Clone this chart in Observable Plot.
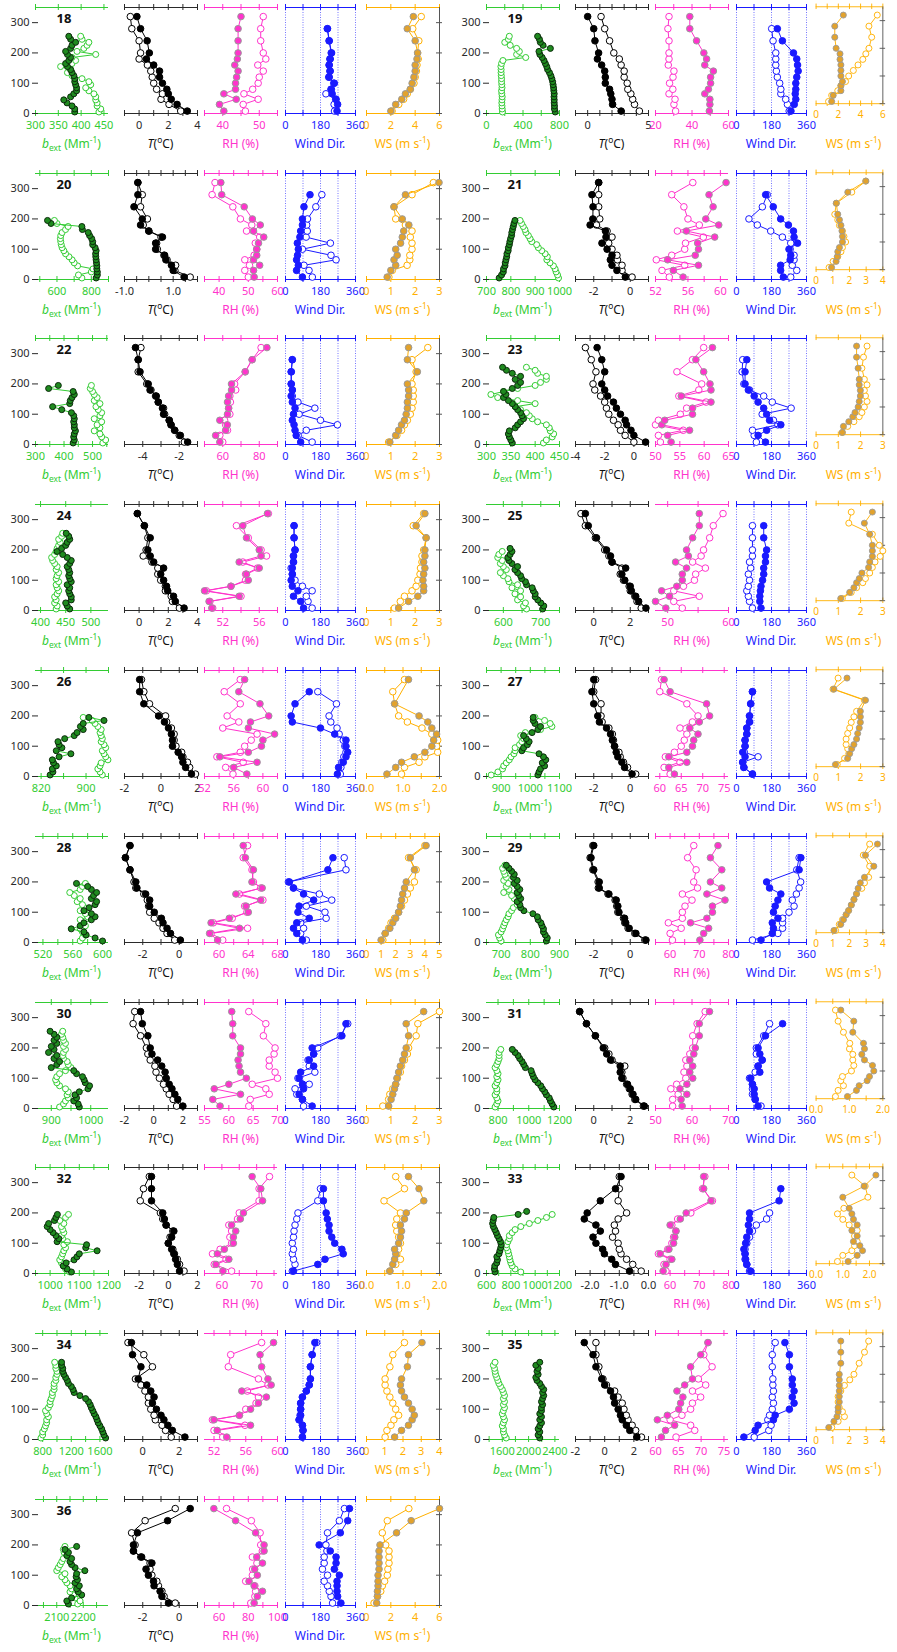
<!DOCTYPE html>
<html><head><meta charset="utf-8">
<script src="https://cdn.jsdelivr.net/npm/d3@7"></script>
<script src="https://cdn.jsdelivr.net/npm/@observablehq/plot@0.6"></script>
<style>
body{margin:0;background:#fff;font-family:"Noto Sans",sans-serif}
#chart{position:relative;width:897px;height:1652px;overflow:hidden;background:#fff}
.sub{position:absolute}
.ttl{position:absolute;width:110px;font-size:12px;text-align:center;white-space:nowrap;line-height:14px}
.ttl sup,.ttl sub{font-size:70%;line-height:0}
</style>
</head><body><div id="chart"></div>
<script>
// ---------- heights ----------
const LEVELS = [8,30,47,65,80,100,120,140,160,180,200,240,280,320];
const BEXT_LEVELS = [5,15,25,35,45,55,65,75,85,95,105,115,125,135,145,155,165,175,185,195,205,215,225,235,245,255];
const PANELS = [18,19,20,21,22,23,24,25,26,27,28,29,30,31,32,33,34,35,36];

// ---------- axis specs: [min, max, ticks, labels, decimals] ----------
const bextAxes = {
18:[300,460,[300,350,400,450],[300,350,400,450],0],
19:[0,800,[0,200,400,600,800],[0,400,800],0],
20:[475,900,[500,600,700,800,900],[600,800],0],
21:[700,1000,[700,800,900,1000],[700,800,900,1000],0],
22:[300,556,[300,350,400,450,500,550],[300,400,500],0],
23:[300,450,[300,350,400,450],[300,350,400,450],0],
24:[390,535,[400,450,500],[400,450,500],0],
25:[555,750,[600,650,700,750],[600,700],0],
26:[810,940,[820,860,900,940],[820,900],0],
27:[850,1100,[850,900,950,1000,1050,1100],[900,1000,1100],0],
28:[510,608,[520,540,560,580,600],[520,560,600],0],
29:[650,900,[650,700,750,800,850,900],[700,800,900],0],
30:[860,1045,[900,950,1000],[900,1000],0],
31:[725,1200,[800,900,1000,1100,1200],[800,1000,1200],0],
32:[950,1200,[950,1000,1050,1100,1150,1200],[1000,1100,1200],0],
33:[600,1200,[600,700,800,900,1000,1100,1200],[600,800,1000,1200],0],
34:[700,1720,[800,1000,1200,1400,1600],[800,1200,1600],0],
35:[1360,2470,[1400,1600,1800,2000,2200,2400],[1600,2000,2400],0],
36:[2020,2295,[2050,2100,2150,2200,2250],[2100,2200],0]};
const tAxes = {
18:[-1,4,[-1,0,1,2,3,4],[0,2,4],0],
19:[-1,5,[-1,0,1,2,3,4,5],[0,5],0],
20:[-1,2,[-1,-0.5,0,0.5,1,1.5,2],[-1,1],1],
21:[-3,1,[-3,-2,-1,0,1],[-2,0],0],
22:[-5,-1,[-5,-4,-3,-2,-1],[-4,-2],0],
23:[-4,1,[-4,-3,-2,-1,0,1],[-4,-2,0],0],
24:[-1,4,[-1,0,1,2,3,4],[0,2,4],0],
25:[-1,3,[-1,0,1,2,3],[0,2],0],
26:[-2,2,[-2,-1,0,1,2],[-2,0,2],0],
27:[-3,1,[-3,-2,-1,0,1],[-2,0],0],
28:[-3,1,[-3,-2,-1,0,1],[-2,0],0],
29:[-3,1,[-3,-2,-1,0,1],[-2,0],0],
30:[-2,3,[-2,-1,0,1,2,3],[-2,0,2],0],
31:[-1,3,[-1,0,1,2,3],[0,2],0],
32:[-3,2,[-3,-2,-1,0,1,2],[-2,0,2],0],
33:[-2.5,0,[-2.5,-2,-1.5,-1,-0.5,0],[-2,-1,0],1],
34:[-1,3,[-1,0,1,2,3],[0,2],0],
35:[-2,3,[-2,-1,0,1,2,3],[-2,0,2],0],
36:[-3,1,[-3,-2,-1,0,1],[-2,0],0]};
const rhAxes = {
18:[35,55,[35,40,45,50,55],[40,50],0],
19:[20,60,[20,30,40,50,60],[20,40,60],0],
20:[35,60,[35,40,45,50,55,60],[40,50,60],0],
21:[52,61,[52,54,56,58,60],[52,56,60],0],
22:[50,90,[50,60,70,80,90],[60,80],0],
23:[50,65,[50,55,60,65],[50,55,60,65],0],
24:[50,58,[50,52,54,56,58],[52,56],0],
25:[48,60,[50,55,60],[50,60],0],
26:[52,62,[52,54,56,58,60,62],[52,56,60],0],
27:[59,76,[60,65,70,75],[60,65,70,75],0],
28:[58,68,[58,60,62,64,66,68],[60,64,68],0],
29:[55,80,[55,60,65,70,75,80],[60,70,80],0],
30:[55,70,[55,60,65,70],[55,60,65,70],0],
31:[50,70,[50,55,60,65,70],[50,60,70],0],
32:[55,76,[55,60,65,70,75],[60,70],0],
33:[55,80,[55,60,65,70,75,80],[60,70,80],0],
34:[50.8,60,[52,54,56,58,60],[52,56,60],0],
35:[60,76,[60,65,70,75],[60,65,70,75],0],
36:[50,100,[50,60,70,80,90,100],[60,80,100],0]};
const wdAxis = [0,360,[0,90,180,270,360],[0,180,360],0];
const wsAxes = {
18:[0,6,[0,2,4,6],[0,2,4,6],0],
19:[0,6,[0,1,2,3,4,5,6],[0,2,4,6],0],
20:[0,3,[0,1,2,3],[0,1,2,3],0],
21:[0,4,[0,1,2,3,4],[0,1,2,3,4],0],
22:[0,3,[0,1,2,3],[0,1,2,3],0],
23:[0,3,[0,1,2,3],[0,1,2,3],0],
24:[0,3,[0,1,2,3],[0,1,2,3],0],
25:[0,3,[0,1,2,3],[0,1,2,3],0],
26:[0,2,[0,0.5,1,1.5,2],[0,1,2],1],
27:[0,3,[0,1,2,3],[0,1,2,3],0],
28:[0,5,[0,1,2,3,4,5],[0,1,2,3,4,5],0],
29:[0,4,[0,1,2,3,4],[0,1,2,3,4],0],
30:[0,3,[0,1,2,3],[0,1,2,3],0],
31:[0,2,[0,0.5,1,1.5,2],[0,1,2],1],
32:[0,2,[0,0.5,1,1.5,2],[0,1,2],1],
33:[0,2.5,[0,0.5,1,1.5,2,2.5],[0,1,2],1],
34:[0,4,[0,1,2,3,4],[0,1,2,3,4],0],
35:[0,4,[0,1,2,3,4],[0,1,2,3,4],0],
36:[0,6,[0,2,4,6],[0,2,4,6],0]};

// ---------- extinction (Mm-1) at BEXT_LEVELS ----------
const bextFilled = {
18:[386,386,380,369,362,377,384,390,390,388,386,386,384,380,377,370,366,373,377,370,366,377,380,388,377,373],
19:[753,745,745,742,742,740,742,738,735,730,725,716,705,690,670,660,645,630,610,585,575,700,620,590,580,560],
20:[828,835,835,832,832,830,828,826,825,828,822,808,808,802,790,782,748,745,565,545],
21:[752,762,769,770,776,777,780,783,784,789,790,794,796,799,803,804,807,810,813,817],
22:[432,436,434,436,440,436,436,434,436,434,426,392,360,420,422,428,436,432,346,380],
23:[353,350,347,345,347,359,364,370,376,373,370,364,359,353,345,335,340,335,353,364,370,359,370,353,341,333],
24:[458,453,450,461,461,458,456,458,453,461,458,456,458,456,453,458,461,453,444,433,442,450,453,458,456,451],
25:[705,708,700,692,685,685,680,677,662,659,649,646,638,631,638,623,615,612,618,623,618],
26:[836,841,840,847,842,840,852,873,847,857,852,850,862,879,884,895,890,895,932,905],
27:[1026,1030,1035,1049,1041,1053,1045,1030,971,977,990,996,986,977,1006,1026,1035,1016,1010,1010],
28:[600,590,578,575,558,570,575,585,590,585,575,582,590,592,585,588,592,585,580,565],
29:[855,858,851,845,845,840,836,827,824,809,778,767,764,755,767,760,755,764,755,745,755,742,745,736,727,718],
30:[971,968,957,964,960,971,993,997,986,983,979,964,957,900,914,921,907,914,893,907,900,914,907,914,907,897],
31:[1163,1152,1141,1133,1115,1104,1089,1078,1059,1041,1030,1022,1015,978,967,956,941,930,911,893],
32:[1073,1058,1045,1055,1082,1092,1100,1161,1122,1125,1024,1030,1020,1010,1000,990,995,1015,1020,1025],
33:[670,665,668,684,690,685,703,710,717,721,715,703,690,680,668,656,650,655,660,860,930],
34:[1680,1656,1640,1624,1600,1576,1560,1544,1520,1500,1480,1464,1440,1400,1320,1240,1224,1200,1160,1144,1120,1096,1080,1080,1064,1064],
35:[2170,2145,2170,2145,2170,2196,2170,2196,2170,2196,2196,2213,2196,2213,2230,2213,2230,2196,2170,2128,2110,2145,2128,2145,2110,2170],
36:[2144,2138,2156,2194,2181,2175,2185,2169,2178,2173,2175,2206,2169,2156,2150,2156,2138,2144,2131,2175]};
const bextOpen = {
18:[439,443,435,435,432,432,428,417,410,421,417,402,380,370,377,355,380,388,380,432,391,406,413,417,402,399],
19:[175,172,170,168,170,172,168,165,170,168,165,165,162,160,160,158,165,180,430,330,360,330,260,200,240,250],
20:[745,725,800,810,720,700,688,670,650,640,630,625,622,620,622,630,650,665,600,585],
21:[996,992,986,982,975,961,948,950,941,927,913,906,886,879,872,862,858,851,844,838],
22:[536,546,532,526,506,526,516,532,506,526,532,520,512,526,506,516,506,500,492,496],
23:[417,423,435,438,431,429,423,405,394,388,382,370,359,400,364,323,309,335,364,400,411,423,423,405,400,382],
24:[431,433,428,431,428,433,436,433,431,436,431,433,436,431,433,428,424,422,428,431,433,436,439,436,442,444],
25:[662,654,659,638,646,631,646,623,638,615,612,600,592,608,600,592,597,585,588,597],
26:[929,925,921,925,927,939,935,932,929,935,932,927,929,927,925,927,921,916,911,895],
27:[866,889,905,909,918,928,934,944,948,948,963,971,977,967,983,1035,1074,1068,1049,1016],
28:[570,573,577,573,570,577,573,570,580,577,570,576,573,566,570,562,556,570,573,577],
29:[700,695,691,700,705,709,713,718,724,727,736,742,755,760,745,736,709,727,718,724,709,718,713,709,705,713],
30:[921,931,936,943,940,943,936,921,914,911,914,921,936,950,943,940,931,929,931,936,931,936,931,929,926,929],
31:[781,792,800,792,781,792,792,781,792,800,792,800,792,781,792,800,807,807,807,818],
32:[1067,1053,1047,1039,1033,1039,1043,1047,1053,1047,1059,1043,1039,1047,1043,1039,1047,1033,1053,1063],
33:[882,835,811,800,793,788,782,776,765,765,776,788,788,811,835,882,952,1022,1093,1140],
34:[776,800,800,824,840,856,856,880,856,840,880,904,904,920,936,936,960,960,960,984,984,1000,1000,984,984,968],
35:[1660,1634,1617,1617,1600,1617,1634,1617,1600,1617,1634,1617,1634,1617,1634,1617,1600,1574,1549,1532,1515,1498,1490,1481,1464,1490],
36:[2179,2188,2169,2163,2150,2156,2150,2138,2131,2119,2131,2100,2106,2113,2119,2125,2138,2128,2125,2131]};

// ---------- temperature (°C) at LEVELS ----------
const tFilled = {
18:[3.3,2.6,2.2,2.0,1.9,1.6,1.4,1.4,1.0,0.5,0.7,0.55,0.1,-0.15],
19:[2.75,2.05,2.0,1.9,1.8,1.45,1.45,1.4,1.15,0.8,0.9,0.6,0.5,0.0],
20:[1.45,1.0,0.93,0.7,0.65,0.28,0.28,0.56,0.0,-0.34,-0.27,-0.61,-0.45,-0.45],
21:[-0.27,-0.73,-1.0,-1.09,-1.0,-1.27,-1.55,-1.33,-1.36,-2.2,-2.05,-2.04,-2.1,-1.73],
22:[-1.54,-1.94,-2.25,-2.45,-2.55,-2.86,-2.92,-3.15,-3.26,-3.6,-3.7,-4.15,-4.25,-4.4],
23:[0.8,0.0,-0.2,-0.5,-0.6,-0.92,-1.2,-1.4,-1.8,-2.0,-2.2,-2.0,-2.2,-2.52],
24:[3.08,2.48,2.36,1.96,1.88,1.68,1.48,1.68,1.0,0.76,0.6,0.76,0.36,-0.12],
25:[2.86,2.46,2.3,2.06,2.0,1.7,1.54,1.75,1.0,0.92,0.7,0.15,-0.3,-0.46],
26:[1.67,1.35,1.2,1.13,0.94,0.63,0.63,0.57,0.41,0.19,-0.13,-0.94,-1.17,-1.17],
27:[0.1,-0.31,-0.46,-0.68,-0.77,-0.86,-0.98,-1.08,-1.3,-1.69,-1.78,-2.0,-2.1,-2.0],
28:[0.06,-0.48,-0.67,-0.89,-0.98,-1.37,-1.62,-1.62,-1.84,-2.32,-2.38,-2.7,-2.95,-2.7],
29:[0.86,0.31,-0.06,-0.25,-0.31,-0.62,-0.68,-0.77,-1.17,-1.7,-1.7,-2.0,-2.15,-2.0],
30:[2.0,1.65,1.45,1.25,1.06,0.86,0.78,0.55,0.27,-0.12,-0.24,-0.4,-0.78,-0.9],
31:[2.77,2.3,2.15,2.0,1.85,1.54,1.45,1.45,0.92,0.71,0.52,0.09,-0.4,-0.77],
32:[0.77,0.62,0.5,0.38,0.23,0.0,0.23,0.38,-0.15,-0.27,-0.38,-1.15,-1.15,-1.15],
33:[-0.65,-1.13,-1.26,-1.51,-1.57,-1.8,-1.9,-1.65,-1.8,-2.2,-2.1,-1.65,-1.13,-0.94],
34:[2.31,1.62,1.38,1.16,1.0,0.75,0.53,0.62,0.44,0.22,-0.25,-0.1,-0.56,-0.62],
35:[2.2,1.72,1.48,1.2,1.08,0.92,0.68,0.6,0.4,0.0,-0.2,-0.6,-0.8,-1.4],
36:[-0.59,-0.95,-1.05,-1.38,-1.41,-1.69,-1.82,-1.5,-2.06,-2.51,-2.51,-2.29,-0.64,0.6]};
const tOpen = {
18:[2.85,2.05,1.5,1.6,1.2,1.0,0.9,0.8,0.57,0.0,0.1,0.0,-0.5,-0.6],
19:[4.25,3.85,3.7,3.55,3.3,3.25,3.0,3.0,2.75,2.6,2.15,1.8,1.4,1.1],
20:[1.7,1.07,1.1,0.75,0.62,0.35,0.32,0.5,0.0,-0.23,-0.06,-0.34,-0.27,-0.45],
21:[0.1,-0.45,-0.45,-0.7,-0.73,-1.0,-1.18,-1.0,-1.27,-1.85,-1.67,-1.73,-1.73,-1.73],
22:[-1.72,-2.0,-2.25,-2.45,-2.55,-2.8,-2.86,-3.15,-3.3,-3.55,-3.78,-4.25,-4.25,-4.1],
23:[0.0,-0.6,-0.92,-1.08,-1.4,-1.72,-1.88,-2.0,-2.28,-2.68,-2.8,-2.6,-2.92,-3.32],
24:[2.76,2.28,2.2,1.8,1.8,1.48,1.28,1.28,0.88,0.28,0.48,0.6,0.36,-0.12],
25:[2.6,2.37,2.25,2.0,1.94,1.63,1.45,1.54,1.0,0.83,0.6,0.09,-0.46,-0.7],
26:[1.89,1.57,1.45,1.2,1.13,0.82,0.72,0.72,0.57,0.31,0.25,-0.63,-0.94,-1.07],
27:[0.3,-0.15,-0.37,-0.55,-0.62,-0.86,-0.92,-0.98,-1.17,-1.54,-1.6,-1.6,-2.0,-1.9],
28:[-0.25,-0.67,-0.89,-1.11,-1.37,-1.62,-1.68,-1.75,-1.94,-2.38,-2.48,-2.7,-2.95,-2.7],
29:[0.8,0.25,-0.12,-0.3,-0.37,-0.68,-0.74,-0.83,-1.22,-1.75,-1.76,-2.05,-2.2,-2.05],
30:[1.57,1.33,1.06,0.86,0.67,0.39,0.16,0.08,-0.24,-0.4,-0.5,-0.9,-1.41,-1.3],
31:[2.72,2.25,2.1,1.95,1.8,1.6,1.54,1.7,1.0,0.83,0.6,0.09,-0.4,-0.77],
32:[1.08,0.77,0.62,0.42,0.31,0.0,0.12,0.31,-0.15,-0.38,-0.54,-1.92,-1.7,-1.3],
33:[-0.25,-0.54,-0.75,-0.94,-1.0,-1.04,-1.23,-1.13,-1.17,-1.04,-0.75,-1.04,-1.0,-1.0],
34:[1.56,1.25,1.06,0.69,0.62,0.44,0.31,0.31,0.12,-0.1,-0.4,0.53,0.06,-0.81],
35:[2.52,2.12,1.88,1.6,1.48,1.32,1.2,0.92,0.68,0.12,-0.12,-0.4,-0.6,-0.6],
36:[-0.22,-0.83,-0.95,-1.14,-1.23,-1.5,-1.6,-1.6,-2.11,-2.51,-2.42,-2.61,-1.87,-0.22]};

// ---------- relative humidity (%) at LEVELS ----------
const rhFilled = {
18:[40.3,39.1,43.7,40.3,43.5,43.5,43.8,44.2,43.3,44.0,44.2,44.2,44.2,45.0],
19:[49.5,49.8,49.8,47.0,49.0,50.2,50.2,51.7,47.0,48.0,46.5,42.5,38.8,38.8],
20:[52.0,51.8,53.9,51.8,52.9,52.9,53.5,55.3,51.8,54.1,51.4,48.6,40.9,40.6],
21:[55.4,54.2,57.3,53.5,56.9,57.3,57.2,59.3,55.8,59.8,58.2,59.1,58.6,60.7],
22:[58.4,56.1,61.6,62.5,58.4,62.6,63.2,62.6,63.2,64.8,64.8,72.3,76.1,84.2],
23:[53.2,52.5,57.0,51.3,51.9,57.6,57.6,61.4,55.3,61.4,61.2,59.9,58.3,61.7],
24:[50.8,50.5,53.8,50.0,52.9,54.8,54.6,56.0,53.8,56.2,56.0,54.6,54.2,56.9],
25:[49.7,48.0,50.3,49.0,51.5,52.4,52.4,53.1,51.3,53.4,53.1,54.1,55.2,55.2],
26:[57.8,56.0,59.2,54.1,58.0,59.8,60.0,61.6,58.0,58.3,60.8,59.6,56.7,57.5],
27:[63.4,62.1,66.3,62.1,66.3,67.6,67.9,68.9,67.0,69.2,71.6,70.9,62.4,61.0],
28:[59.8,58.7,62.8,58.9,61.4,64.0,63.7,65.7,62.3,65.9,64.5,64.7,63.6,63.3],
29:[70.2,71.5,73.2,67.0,72.6,74.5,74.5,78.8,72.6,77.7,73.8,77.7,73.8,76.4],
30:[58.2,56.7,62.4,57.0,60.0,63.6,62.4,62.1,61.9,62.4,62.4,60.8,60.8,60.6],
31:[57.3,57.0,58.6,56.7,58.6,60.2,59.4,60.2,59.4,60.5,60.9,62.0,62.0,64.8],
32:[60.3,58.3,62.0,58.7,60.7,63.3,63.3,64.0,62.8,65.3,66.2,71.7,71.2,68.7],
33:[57.6,58.6,60.6,56.6,59.6,61.2,61.6,62.0,60.0,63.5,65.5,74.0,71.5,71.5],
34:[53.6,52.4,56.6,52.0,55.2,56.6,57.6,58.6,55.5,59.2,58.8,58.0,57.8,59.5],
35:[61.3,62.2,64.2,60.4,62.6,65.1,65.5,66.0,64.7,66.4,68.1,67.7,69.9,71.5],
36:[84.0,86.2,89.7,84.0,80.5,86.2,84.4,89.7,85.8,90.8,90.8,85.0,71.3,56.4]};
const rhOpen = {
18:[46.2,45.6,49.7,45.8,48.2,49.7,50.0,51.1,49.6,51.8,51.1,50.4,50.4,51.1],
19:[31.0,30.1,30.7,27.4,29.5,27.7,29.6,30.1,27.0,27.4,27.4,27.4,26.8,27.4],
20:[50.0,48.8,50.4,48.8,52.0,52.9,52.4,53.9,49.4,51.2,47.3,44.7,37.6,38.6],
21:[53.7,52.8,55.6,52.1,54.0,55.6,55.7,57.9,54.7,57.4,56.0,55.5,54.0,56.6],
22:[60.0,58.4,62.6,61.6,61.0,63.9,63.2,64.2,63.9,67.1,66.5,72.3,76.1,81.0],
23:[51.0,50.6,55.7,50.0,50.6,55.1,56.4,60.4,54.8,58.9,59.5,54.4,57.6,59.9],
24:[50.9,50.6,54.0,50.2,52.9,54.5,54.5,55.8,54.2,56.8,56.2,54.8,53.5,57.0],
25:[52.4,51.0,55.2,51.0,52.6,54.4,54.6,56.2,54.1,55.5,55.9,56.9,57.5,59.1],
26:[55.9,54.9,57.3,53.7,56.9,57.5,58.4,59.2,54.5,56.7,55.1,56.9,54.7,56.9],
27:[62.4,61.0,64.7,61.3,63.4,65.0,65.7,66.3,64.7,67.6,68.9,66.3,60.0,60.4],
28:[60.5,58.9,63.9,59.2,61.8,63.8,63.5,66.0,62.8,65.7,64.7,64.5,63.3,63.9],
29:[60.8,60.0,63.8,59.4,64.2,64.2,65.1,67.5,64.2,69.4,68.1,68.9,66.0,68.1],
30:[64.1,64.4,68.3,67.6,64.8,70.0,69.5,68.3,68.3,69.3,69.5,67.1,67.6,64.1],
31:[54.7,54.7,56.2,54.2,55.8,58.3,57.8,58.6,58.3,59.4,60.2,60.2,61.4,63.6],
32:[62.8,57.8,61.2,57.3,59.5,62.8,62.3,62.8,62.0,64.5,65.0,70.7,70.7,73.7],
33:[58.6,57.9,60.0,56.0,59.2,60.6,61.2,62.0,60.6,62.6,67.1,74.5,71.1,71.9],
34:[53.1,52.0,55.9,51.8,55.2,56.0,57.3,57.6,56.2,58.8,57.6,53.8,54.1,58.0],
35:[64.5,68.6,67.7,63.2,65.8,67.7,68.1,69.9,68.1,71.0,69.4,72.4,70.6,71.5],
36:[81.7,84.5,85.0,84.5,78.2,82.8,83.0,85.9,82.8,89.6,88.5,88.1,82.1,65.1]};

// ---------- wind direction (deg) at LEVELS ----------
const wdFilled = {
18:[265,268,260,240,234,251,225,230,225,230,237,225,216,null],
19:[280,297,305,302,305,305,310,317,314,310,293,236,210,null],
20:[87,57,66,57,62,66,61,74,78,87,87,95,126,null],
21:[241,227,227,276,279,270,314,296,293,267,227,189,150,null],
22:[78,55,49,44,35,41,49,35,29,35,29,29,35,null],
23:[149,111,155,228,170,155,140,111,91,61,44,44,53,null],
24:[93,78,41,64,35,29,35,35,41,41,49,44,44,null],
25:[126,120,120,123,126,134,140,140,149,149,155,140,140,null],
26:[267,273,297,311,320,311,311,253,180,35,29,49,122,null],
27:[82,38,32,44,32,44,44,53,53,67,67,73,82,null],
28:[87,58,41,58,122,64,70,145,93,41,20,218,244,null],
29:[126,184,190,184,213,190,199,213,228,170,155,322,331,null],
30:[137,87,70,93,87,70,78,145,122,145,137,290,311,null],
31:[111,96,91,91,82,73,120,111,132,120,111,149,237,null],
32:[41,166,203,297,290,253,238,224,224,215,209,195,195,null],
33:[73,53,47,44,38,47,53,67,61,67,67,219,228,null],
34:[87,90,87,70,78,78,78,87,107,122,128,128,137,151],
35:[38,96,111,190,199,272,296,287,296,287,287,272,272,249],
36:[285,268,265,265,265,277,251,260,260,230,173,282,320,329]};
const wdOpen = {
18:[252,250,258,208,236,248,222,228,224,228,235,224,215,null],
19:[271,262,253,228,228,222,210,205,202,202,202,188,181,null],
20:[138,121,95,260,234,87,231,106,112,109,113,156,187,null],
21:[279,310,287,296,296,276,279,236,176,107,64,133,158,null],
22:[137,65,107,267,180,70,151,64,35,35,30,30,35,null],
23:[102,91,82,213,190,132,281,184,140,67,38,29,32,null],
24:[137,116,107,137,87,49,35,29,41,41,49,44,44,null],
25:[82,67,61,53,61,67,61,73,67,82,82,82,82,null],
26:[282,285,290,300,311,305,297,276,265,233,224,262,166,null],
27:[82,38,32,111,40,44,44,53,53,67,67,73,82,null],
28:[107,78,93,78,209,203,107,238,174,41,15,311,302,null],
29:[82,213,237,237,237,270,296,287,308,322,330,310,322,null],
30:[93,87,58,49,122,64,151,122,116,145,166,282,320,null],
31:[126,96,82,82,82,67,96,111,132,102,102,140,170,null],
32:[35,49,41,35,41,35,41,44,49,58,64,166,180,null],
33:[67,53,44,44,44,53,67,82,102,155,170,null,null,null],
34:[87,90,87,70,75,78,78,87,107,122,128,128,137,160],
35:[91,166,178,161,170,184,190,184,190,187,187,184,184,199],
36:[242,234,225,216,199,216,190,199,199,213,208,216,277,303]};

// ---------- wind speed (m s-1) at LEVELS ----------
const wsFilled = {
18:[2.0,2.4,2.9,3.2,3.6,3.75,3.9,4.0,4.0,4.15,4.2,4.0,3.35,3.85],
19:[1.4,1.54,2.23,2.23,2.37,2.23,2.23,2.23,2.15,2.15,1.8,1.68,1.68,2.45],
20:[0.85,1.0,1.2,1.13,1.26,1.2,1.4,1.47,1.53,1.74,1.47,1.13,1.6,2.98],
21:[0.93,1.2,1.27,1.3,1.4,1.58,1.58,1.55,1.49,1.4,1.3,1.21,1.9,2.98],
22:[0.96,1.2,1.32,1.44,1.56,1.63,1.68,1.68,1.73,1.73,1.68,2.09,1.68,1.73],
23:[1.18,1.23,1.47,1.65,1.75,1.89,1.94,1.99,1.99,1.94,1.94,1.89,1.82,1.82],
24:[1.32,1.73,2.11,2.35,2.35,2.32,2.35,2.4,2.35,2.4,2.4,2.45,2.04,2.4],
25:[1.11,1.51,1.7,1.82,1.94,2.06,2.36,2.41,2.53,2.53,2.53,2.41,2.17,2.53],
26:[0.56,0.8,0.96,1.31,1.6,1.79,1.84,1.92,1.79,1.68,1.44,0.77,null,1.15],
27:[0.87,1.42,1.51,1.6,1.7,1.82,1.87,1.94,1.99,1.99,1.99,2.22,0.8,1.39],
28:[1.0,1.28,1.6,1.8,2.0,2.2,2.32,2.4,2.48,2.6,2.72,3.28,3.0,4.08],
29:[1.07,1.48,1.64,1.8,1.95,2.11,2.27,2.42,2.52,2.65,2.9,3.46,2.96,3.68],
30:[0.91,1.01,1.08,1.15,1.2,1.25,1.32,1.39,1.49,1.56,1.63,1.73,1.63,2.35],
31:[0.94,1.21,1.29,1.53,1.6,1.73,1.69,1.45,1.37,1.45,1.42,1.1,1.13,0.74],
32:[0.64,0.72,0.77,0.8,0.77,0.88,0.93,0.96,0.93,1.04,1.09,1.57,1.44,1.15],
33:[1.2,1.54,1.74,1.64,1.4,1.54,1.34,1.54,1.4,1.34,1.24,1.0,1.8,2.24],
34:[1.54,1.92,2.3,2.5,2.62,2.5,2.3,2.08,1.92,1.86,1.92,2.24,2.3,3.04],
35:[0.76,1.07,1.25,1.32,1.32,1.39,1.39,1.39,1.39,1.39,1.39,1.48,1.48,1.48],
36:[0.84,0.9,0.9,0.95,0.95,0.95,1.03,1.03,1.03,1.03,1.11,2.47,3.67,6.0]};
const wsOpen = {
18:[2.1,2.65,3.05,3.35,3.6,3.9,4.0,4.1,4.15,4.25,4.2,4.3,3.8,4.5],
19:[1.12,1.4,1.95,2.23,2.65,2.93,3.35,3.77,4.2,4.47,4.75,5.0,4.75,5.5],
20:[0.92,1.06,1.67,1.78,1.78,1.87,1.87,1.8,1.87,1.6,1.2,1.13,1.87,2.75],
21:[0.78,1.02,1.3,1.49,1.58,1.77,1.67,1.58,1.4,1.3,1.12,1.21,2.14,2.98],
22:[0.91,1.25,1.44,1.56,1.68,1.8,1.87,1.92,1.92,1.92,1.87,2.04,1.87,2.52],
23:[1.18,1.42,1.7,1.94,2.06,2.17,2.29,2.22,2.17,2.29,2.17,2.06,2.13,2.29],
24:[1.15,1.39,1.56,1.87,2.04,2.11,2.2,2.22,2.28,2.28,2.35,2.45,1.92,2.35],
25:[1.18,1.58,1.82,2.1,2.22,2.41,2.53,2.65,2.88,3.0,2.84,2.53,1.47,1.58],
26:[0.96,1.04,1.44,1.6,1.95,1.92,1.95,1.79,1.52,1.12,0.88,0.77,0.72,1.04],
27:[0.95,1.28,1.47,1.42,1.35,1.35,1.42,1.51,1.58,1.7,1.82,2.17,0.76,0.99],
28:[1.12,1.28,1.52,1.68,1.92,2.2,2.4,2.6,2.8,3.0,3.28,3.4,2.88,4.0],
29:[1.17,1.39,1.58,1.8,1.95,2.11,2.27,2.42,2.74,2.9,3.15,3.21,2.83,3.21],
30:[0.67,0.91,0.96,1.08,1.2,1.27,1.39,1.44,1.56,1.68,1.73,2.04,2.11,3.0],
31:[0.58,0.66,0.82,0.74,0.79,1.06,1.13,1.1,1.1,1.0,1.01,0.82,0.66,0.58],
32:[0.64,0.8,0.93,0.83,0.88,0.93,0.88,0.83,0.8,0.83,0.93,0.48,1.04,0.8],
33:[0.8,1.0,1.34,1.44,1.54,1.44,1.54,1.24,1.0,0.8,1.04,1.94,1.84,1.34],
34:[1.02,1.12,1.34,1.5,1.76,1.6,1.44,1.28,1.12,1.02,1.02,1.28,1.44,2.08],
35:[0.94,1.32,1.7,1.58,1.39,1.32,1.32,1.48,1.7,2.02,2.27,2.58,2.9,3.15],
36:[0.62,0.9,1.17,1.3,1.49,1.71,1.76,1.85,1.85,1.85,1.58,1.3,1.71,3.48]};

// ---------- drawing ----------
const GREEN = "#33cc33", MAGENTA = "#ff33cc", BLUE = "#1a1aff", ORANGE = "#ffb000", DARK = "#2a2a2a";
const FONT = "'Noto Sans', sans-serif";
const PH = 106, MT = 8, MB = 26;
const COL_OFFSET = 451, ROW_PITCH = 165.8, ZERO0 = 112.7;

const VARS = [
  {left:35, w:73, color:GREEN, axes:p=>bextAxes[p], F:bextFilled, O:bextOpen, hs:BEXT_LEVELS, r:3,
   fillF:"#1f8a1f", strokeF:"#0b2a0b", strokeO:GREEN, line:GREEN, isB:true,
   title:'<i>b</i><sub>ext</sub> (Mm<sup>-1</sup>)'},
  {left:124, w:73, color:DARK, axes:p=>tAxes[p], F:tFilled, O:tOpen, hs:LEVELS, r:3.3,
   fillF:"#000", strokeF:"#000", strokeO:"#000", line:"#000", title:'<i>T</i>(<sup>o</sup>C)'},
  {left:204, w:73, color:MAGENTA, axes:p=>rhAxes[p], F:rhFilled, O:rhOpen, hs:LEVELS, r:3.3,
   fillF:MAGENTA, strokeF:"#9a9a9a", strokeO:MAGENTA, line:MAGENTA, title:'RH (%)'},
  {left:285, w:70, color:BLUE, axes:p=>wdAxis, F:wdFilled, O:wdOpen, hs:LEVELS, r:3.3,
   fillF:BLUE, strokeF:BLUE, strokeO:BLUE, line:BLUE, isWD:true, title:'Wind Dir.'},
  {left:366, w:73, color:ORANGE, axes:p=>wsAxes[p], F:wsFilled, O:wsOpen, hs:LEVELS, r:3.3,
   fillF:"#e2a22c", strokeF:"#9a9a9a", strokeO:ORANGE, line:ORANGE, isWS:true,
   title:'WS (m s<sup>-1</sup>)'}
];

const chart = document.getElementById("chart");

function makeSub(V, p) {
  const [x0, x1, ticks, labels, dec] = V.axes(p);
  const ml = V.isB ? 40 : 16, mr = 16;
  const tu = 3 * 350 / PH;
  const dx = 3 * (x1 - x0) / V.w;
  const fmt = d => dec ? d.toFixed(dec) : String(d);
  const rows = vals => vals.map((v, i) => ({v, h: V.hs[i]})).filter(d => d.v != null);
  const open = rows(V.O[p]), filled = rows(V.F[p]);
  const marks = [];
  if (V.isWD) marks.push(Plot.ruleX(ticks, {x: d => d, stroke: V.color, strokeDasharray: "1,1.5", strokeWidth: 0.8, strokeOpacity: 0.75}));
  marks.push(Plot.ruleY([0, 350], {y: d => d, stroke: V.color, strokeWidth: 1}));
  marks.push(Plot.ruleX(ticks, {x: d => d, y1: 350 - tu, y2: 350 + tu, stroke: V.color}));
  marks.push(Plot.ruleX(ticks, {x: d => d, y1: -tu, y2: tu, stroke: V.color}));
  marks.push(Plot.axisX({anchor: "bottom", ticks: labels, tickSize: 0, tickPadding: 8, tickFormat: fmt, color: V.color, label: null}));
  if (V.isB) {
    marks.push(Plot.ruleY([0, 100, 200, 300], {y: d => d, x1: x0 - dx, x2: x0 + dx, stroke: DARK}));
    marks.push(Plot.axisY({anchor: "left", ticks: [0, 100, 200, 300], tickSize: 0, tickPadding: 6, color: DARK, label: null}));
    marks.push(Plot.text([String(p)], {frameAnchor: "top-left", dx: 21, dy: 6, text: d => d, fontWeight: "bold", fontSize: 13, fill: "#111", textAnchor: "start", lineAnchor: "top"}));
  }
  if (V.isWS) {
    marks.push(Plot.ruleX([x1], {x: d => d, stroke: "#555"}));
    marks.push(Plot.ruleY([0, 100, 200, 300], {y: d => d, x1: x1 - dx, x2: x1 + dx, stroke: "#555"}));
  }
  marks.push(Plot.line(open, {x: "v", y: "h", stroke: V.line, strokeWidth: 1}));
  marks.push(Plot.dot(open, {x: "v", y: "h", r: V.r, fill: "white", stroke: V.strokeO, strokeWidth: 1}));
  marks.push(Plot.line(filled, {x: "v", y: "h", stroke: V.line, strokeWidth: 1}));
  marks.push(Plot.dot(filled, {x: "v", y: "h", r: V.r, fill: V.fillF, stroke: V.strokeF, strokeWidth: 1}));
  const svg = Plot.plot({
    width: ml + V.w + mr, height: MT + PH + MB,
    marginLeft: ml, marginRight: mr, marginTop: MT, marginBottom: MB,
    x: {domain: [x0, x1]},
    y: {domain: [0, 350], axis: V.isB ? undefined : null},
    style: {background: "transparent", overflow: "visible", fontFamily: FONT, fontSize: "11px"},
    marks
  });
  return {svg, ml};
}

PANELS.forEach((p, i) => {
  const row = Math.floor(i / 2), col = i % 2;
  const off = col * COL_OFFSET;
  const zeroY = ZERO0 + ROW_PITCH * row;
  VARS.forEach(V => {
    const {svg, ml} = makeSub(V, p);
    const wrap = document.createElement("div");
    wrap.className = "sub";
    wrap.style.left = (V.left + off - ml) + "px";
    wrap.style.top = (zeroY - PH - MT) + "px";
    wrap.appendChild(svg);
    chart.appendChild(wrap);
    const t = document.createElement("div");
    t.className = "ttl";
    t.innerHTML = V.title;
    t.style.color = V.color === DARK ? "#111" : V.color;
    t.style.left = (V.left + off + V.w / 2 - 55) + "px";
    t.style.top = (zeroY + 24) + "px";
    chart.appendChild(t);
  });
});
</script>
</body></html>
